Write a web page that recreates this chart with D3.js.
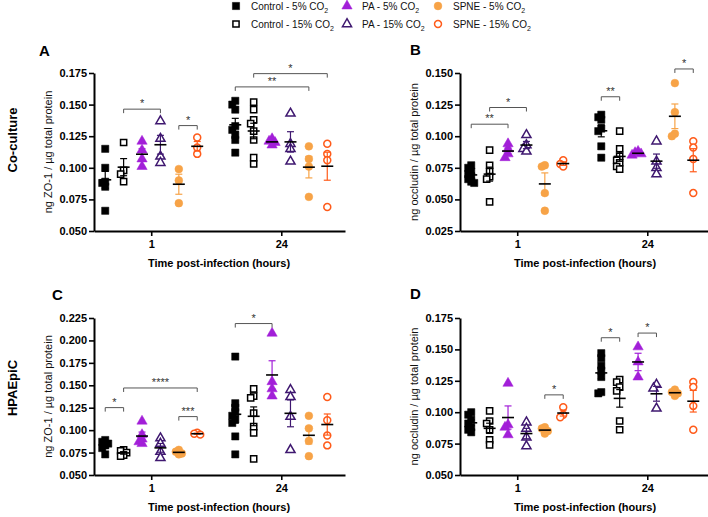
<!DOCTYPE html>
<html>
<head>
<meta charset="utf-8">
<script src="https://cdn.jsdelivr.net/npm/d3@7"></script>
<style>
  body { margin: 0; background: #fff; }
  svg text { font-family: "Liberation Sans", Arial, sans-serif; }
</style>
</head>
<body>
<div id="chart"></div>
<script>
// categories
const times = ["1", "24"];
const groupNames = ["Control - 5% CO", "Control - 15% CO", "PA - 5% CO", "PA - 15% CO", "SPNE - 5% CO", "SPNE - 15% CO"];

// A: co-culture ZO-1 (groups: C5, C15, PA5, PA15, SP5, SP15)
const zo1Co_1h = [
  [0.115, 0.100, 0.089, 0.088, 0.085, 0.066],
  [0.120, 0.098, 0.095, 0.089],
  [0.121, 0.114, 0.107, 0.101],
  [0.137, 0.123, 0.109, 0.104],
  [0.099, 0.090, 0.072],
  [0.124, 0.116, 0.111]
];
const zo1Co_24h = [
  [0.153, 0.150, 0.146, 0.133, 0.130, 0.126, 0.122, 0.112],
  [0.152, 0.146, 0.138, 0.135, 0.129, 0.122, 0.108, 0.103],
  [0.123, 0.121, 0.120, 0.118],
  [0.143, 0.119, 0.115, 0.105],
  [0.117, 0.107, 0.101, 0.077],
  [0.119, 0.111, 0.106, 0.069]
];
// B: co-culture occludin
const occCo_1h = [
  [0.077, 0.075, 0.072, 0.070, 0.068, 0.066, 0.064, 0.063],
  [0.089, 0.077, 0.072, 0.068, 0.066, 0.048],
  [0.094, 0.090, 0.086, 0.083],
  [0.101, 0.093, 0.090, 0.088],
  [0.077, 0.076, 0.055, 0.041],
  [0.081, 0.078, 0.076]
];
const occCo_24h = [
  [0.117, 0.115, 0.113, 0.106, 0.104, 0.092, 0.083],
  [0.104, 0.090, 0.084, 0.081, 0.079, 0.076, 0.074],
  [0.088, 0.087, 0.086, 0.085],
  [0.096, 0.080, 0.075, 0.070],
  [0.142, 0.119, 0.102, 0.100],
  [0.096, 0.091, 0.082, 0.055]
];
// C: HPAEpiC ZO-1
const zo1Hp_1h = [
  [0.089, 0.087, 0.085, 0.083, 0.080, 0.073],
  [0.078, 0.077, 0.075, 0.072, 0.071],
  [0.110, 0.095, 0.090, 0.087, 0.085],
  [0.091, 0.085, 0.076, 0.069],
  [0.078, 0.076, 0.074, 0.073],
  [0.097, 0.096, 0.095]
];
const zo1Hp_24h = [
  [0.182, 0.130, 0.125, 0.120, 0.116, 0.112, 0.108, 0.093, 0.073],
  [0.146, 0.138, 0.136, 0.119, 0.104, 0.097, 0.068],
  [0.208, 0.154, 0.146, 0.138],
  [0.145, 0.137, 0.115, 0.078],
  [0.116, 0.102, 0.088, 0.071],
  [0.137, 0.111, 0.094, 0.083]
];
// D: HPAEpiC occludin
const occHp_1h = [
  [0.100, 0.098, 0.094, 0.091, 0.088, 0.086, 0.084],
  [0.101, 0.093, 0.091, 0.086, 0.078, 0.074],
  [0.123, 0.090, 0.088, 0.082],
  [0.092, 0.087, 0.080, 0.073],
  [0.088, 0.087, 0.085, 0.083],
  [0.104, 0.098, 0.096]
];
const occHp_24h = [
  [0.147, 0.143, 0.137, 0.133, 0.128, 0.116, 0.115],
  [0.126, 0.124, 0.120, 0.117, 0.093, 0.086],
  [0.152, 0.140, 0.128],
  [0.122, 0.119, 0.103],
  [0.118, 0.116, 0.115, 0.113],
  [0.124, 0.120, 0.105, 0.086]
];

// significance brackets: [time index, from group, to group, level, label]
const sigA = [[0, 1, 3, 0.1464, "*"], [0, 4, 5, 0.1334, "*"], [1, 0, 4, 0.1640, "**"], [1, 1, 5, 0.1745, "*"]];
const sigB = [[0, 0, 2, 0.1095, "**"], [0, 1, 3, 0.1227, "*"], [1, 0, 1, 0.1312, "**"], [1, 4, 5, 0.1532, "*"]];
const sigC = [[0, 0, 1, 0.1251, "*"], [0, 1, 5, 0.1470, "****"], [0, 4, 5, 0.1151, "***"], [1, 0, 2, 0.2188, "*"]];
const sigD = [[0, 4, 5, 0.1138, "*"], [1, 0, 1, 0.1593, "*"], [1, 2, 3, 0.1630, "*"]];

// tick labels
const ticksA = [0.050, 0.075, 0.100, 0.125, 0.150, 0.175];
const ticksB = [0.025, 0.050, 0.075, 0.100, 0.125, 0.150];
const ticksC = [0.050, 0.075, 0.100, 0.125, 0.150, 0.175, 0.200, 0.225];
const ticksD = [0.050, 0.075, 0.100, 0.125, 0.150, 0.175];

const width = 708, height = 517;

const groupStyle = [
  {sym: d3.symbolSquare, fill: "#000", stroke: "#000", bar: "#000"},
  {sym: d3.symbolSquare, fill: "#fff", stroke: "#000", bar: "#000"},
  {sym: d3.symbolTriangle, fill: "#a21fd8", stroke: "#a21fd8", bar: "#a21fd8"},
  {sym: d3.symbolTriangle, fill: "#fff", stroke: "#3f1870", bar: "#3f1870"},
  {sym: d3.symbolCircle, fill: "#f7a347", stroke: "#f7a347", bar: "#f7a347"},
  {sym: d3.symbolCircle, fill: "#fff", stroke: "#ff5b1a", bar: "#ff5b1a"}
];
function symSize(gi) {
  const s = groupStyle[gi].sym;
  if (s === d3.symbolSquare) return gi % 2 ? 38 : 52;
  if (s === d3.symbolTriangle) return gi % 2 ? 36 : 46;
  return gi % 2 ? 38 : 48;
}

let svg = d3.select("#chart")
  .append("svg")
  .attr("width", width)
  .attr("height", height);

const panels = [
  {letter: "A", lx: 39, ly: 56, x0: 94, top: 73, bot: 231, dom: [0.050, 0.175], ticks: ticksA,
   data: [zo1Co_1h, zo1Co_24h], sig: sigA, ylab: "ng ZO-1 / µg total protein"},
  {letter: "B", lx: 410, ly: 55, x0: 460, top: 73, bot: 231, dom: [0.025, 0.150], ticks: ticksB,
   data: [occCo_1h, occCo_24h], sig: sigB, ylab: "ng occludin / µg total protein"},
  {letter: "C", lx: 52, ly: 300, x0: 94, top: 318, bot: 475, dom: [0.050, 0.225], ticks: ticksC,
   data: [zo1Hp_1h, zo1Hp_24h], sig: sigC, ylab: "ng ZO-1 / µg total protein"},
  {letter: "D", lx: 410, ly: 299, x0: 460, top: 318, bot: 475, dom: [0.050, 0.175], ticks: ticksD,
   data: [occHp_1h, occHp_24h], sig: sigD, ylab: "ng occludin / µg total protein"}
];

panels.forEach(drawPanel);

function drawPanel(p) {
  const g = svg.append("g");
  const y = d3.scaleLinear().domain(p.dom).range([p.bot, p.top]);
  const x = d3.scaleLinear().domain([-0.44, 1.49]).range([p.x0, p.x0 + 251]);
  const off = d3.scalePoint().domain(d3.range(6)).range([-46, 46]);

  // axes
  let yAx = g.append("g")
    .attr("transform", "translate(" + p.x0 + ",0)")
    .call(d3.axisLeft(y).tickValues(p.ticks).tickFormat(d3.format(".3f")).tickSize(5).tickPadding(2).tickSizeOuter(0));
  let xAx = g.append("g")
    .attr("transform", "translate(0," + p.bot + ")")
    .call(d3.axisBottom(x).tickValues([0, 1]).tickFormat(i => times[i]).tickSize(5).tickPadding(4).tickSizeOuter(0));
  [yAx, xAx].forEach(a => {
    a.select(".domain").attr("stroke", "#000").attr("stroke-width", 2);
    a.selectAll(".tick line").attr("stroke", "#000").attr("stroke-width", 1.6);
    a.selectAll(".tick text").attr("fill", "#000").style("font-size", "11px").style("font-weight", "bold");
  });

  g.append("text")
    .attr("x", p.lx).attr("y", p.ly)
    .style("font-size", "15px").style("font-weight", "bold")
    .text(p.letter);

  g.append("text")
    .attr("transform", "translate(" + (p.x0 - 42) + "," + ((p.top + p.bot) / 2) + ") rotate(-90)")
    .attr("text-anchor", "middle")
    .style("font-size", "11px").attr("fill", "#111")
    .text(p.ylab);

  g.append("text")
    .attr("x", p.x0 + 125).attr("y", p.bot + 36)
    .attr("text-anchor", "middle")
    .style("font-size", "11px").style("font-weight", "bold")
    .text("Time post-infection (hours)");

  // points, mean and SEM
  p.data.forEach(function(timeData, ti) {
    timeData.forEach(function(vals, gi) {
      const cx = x(ti) + off(gi);
      const st = groupStyle[gi];
      // simple dodge so overlapping points sit side by side
      let placed = [];
      let sorted = vals.slice().sort((a, b) => b - a);
      sorted.forEach(function(v) {
        const py = y(v);
        const cands = [0, -3, 3, -6, 6];
        let dx = 0;
        for (let c of cands) {
          if (!placed.some(q => Math.abs(q.y - py) < 4 && Math.abs(q.dx - c) < 2.5)) { dx = c; break; }
        }
        placed.push({v: v, y: py, dx: dx});
      });
      g.append("g").selectAll("path")
        .data(placed)
        .enter()
        .append("path")
        .attr("d", d3.symbol().type(st.sym).size(symSize(gi)))
        .attr("transform", d => "translate(" + (cx + d.dx) + "," + d.y + ")")
        .attr("fill", st.fill)
        .attr("stroke", st.stroke)
        .attr("stroke-width", gi % 2 ? 1.5 : 0.5);

      const m = d3.mean(vals);
      const sem = d3.deviation(vals) / Math.sqrt(vals.length);
      g.append("line")
        .attr("x1", cx).attr("x2", cx)
        .attr("y1", y(m - sem)).attr("y2", y(m + sem))
        .attr("stroke", st.bar).attr("stroke-width", 1.2);
      [m - sem, m + sem].forEach(function(e) {
        g.append("line")
          .attr("x1", cx - 3.5).attr("x2", cx + 3.5)
          .attr("y1", y(e)).attr("y2", y(e))
          .attr("stroke", st.bar).attr("stroke-width", 1.2);
      });
      g.append("line")
        .attr("x1", cx - 6).attr("x2", cx + 6)
        .attr("y1", y(m)).attr("y2", y(m))
        .attr("stroke", "#000").attr("stroke-width", 1.6);
    });
  });

  // significance brackets
  p.sig.forEach(function(s) {
    const xa = x(s[0]) + off(s[1]), xb = x(s[0]) + off(s[2]), yy = y(s[3]);
    g.append("path")
      .attr("d", "M" + xa + "," + (yy + 4) + "V" + yy + "H" + xb + "V" + (yy + 4))
      .attr("fill", "none").attr("stroke", "#555").attr("stroke-width", 1);
    g.append("text")
      .attr("x", (xa + xb) / 2).attr("y", yy - 2)
      .attr("text-anchor", "middle")
      .style("font-size", "11px").attr("fill", "#333")
      .text(s[4]);
  });
}

// row labels
svg.append("text")
  .attr("transform", "translate(17,140) rotate(-90)")
  .attr("text-anchor", "middle")
  .style("font-size", "13px").style("font-weight", "bold")
  .text("Co-culture");
svg.append("text")
  .attr("transform", "translate(17,388) rotate(-90)")
  .attr("text-anchor", "middle")
  .style("font-size", "13px").style("font-weight", "bold")
  .text("HPAEpiC");

// legend
const legX = [236, 347, 438];
let leg = svg.append("g").selectAll("g")
  .data(groupNames)
  .enter()
  .append("g")
  .attr("transform", (d, i) => "translate(" + legX[Math.floor(i / 2)] + "," + (i % 2 ? 24 : 6) + ")");
leg.append("path")
  .attr("d", (d, i) => d3.symbol().type(groupStyle[i].sym).size(symSize(i))())
  .attr("fill", (d, i) => groupStyle[i].fill)
  .attr("stroke", (d, i) => groupStyle[i].stroke)
  .attr("stroke-width", (d, i) => i % 2 ? 1.5 : 0.5);
let lt = leg.append("text")
  .attr("x", 15).attr("y", 4)
  .style("font-size", "10px").attr("fill", "#111")
  .text(d => d);
lt.append("tspan").attr("dy", 3).style("font-size", "7px").text("2");
</script>
</body>
</html>
